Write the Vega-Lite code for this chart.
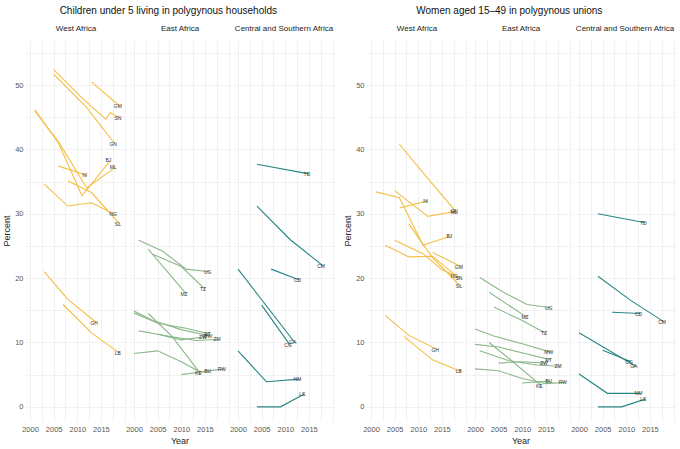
{
  "$schema": "https://vega.github.io/schema/vega-lite/v6.json",
  "background": "white",
  "padding": {"left": 2, "right": 2, "top": 6, "bottom": 0},
  "config": {
    "font": "Liberation Sans",
    "view": {"stroke": null},
    "axis": {"domain": false, "ticks": false, "gridColor": "#EBEBEB", "gridWidth": 0.7, "labelFontSize": 7.5, "labelColor": "#555555", "labelPadding": 3, "titleFontSize": 9, "titleFontWeight": "normal", "titleColor": "#222222", "titlePadding": 3},
    "header": {"labelFontSize": 8, "labelColor": "#222222", "labelPadding": 7, "titleFontSize": 9, "titleFontWeight": "normal", "titleColor": "#222222", "titlePadding": -6},
    "title": {"fontSize": 10, "fontWeight": "normal", "color": "#111111", "anchor": "middle", "offset": 9},
    "concat": {"spacing": 9}
  },
  "datasets": {
    "children": [
      {"region": "West Africa", "country": "GM", "year": 2013, "percent": 50.5},
      {"region": "West Africa", "country": "GM", "year": 2019, "percent": 46.7},
      {"region": "West Africa", "country": "SN", "year": 2005, "percent": 52.4},
      {"region": "West Africa", "country": "SN", "year": 2011, "percent": 48.0},
      {"region": "West Africa", "country": "SN", "year": 2016, "percent": 44.7},
      {"region": "West Africa", "country": "SN", "year": 2017, "percent": 45.7},
      {"region": "West Africa", "country": "SN", "year": 2019, "percent": 44.9},
      {"region": "West Africa", "country": "GN", "year": 2005, "percent": 51.7},
      {"region": "West Africa", "country": "GN", "year": 2012, "percent": 46.5},
      {"region": "West Africa", "country": "GN", "year": 2018, "percent": 40.8},
      {"region": "West Africa", "country": "BJ", "year": 2001, "percent": 46.2},
      {"region": "West Africa", "country": "BJ", "year": 2006, "percent": 41.0},
      {"region": "West Africa", "country": "BJ", "year": 2011, "percent": 32.8},
      {"region": "West Africa", "country": "BJ", "year": 2017, "percent": 38.3},
      {"region": "West Africa", "country": "ML", "year": 2001, "percent": 46.0},
      {"region": "West Africa", "country": "ML", "year": 2006, "percent": 41.2},
      {"region": "West Africa", "country": "ML", "year": 2012, "percent": 34.0},
      {"region": "West Africa", "country": "ML", "year": 2018, "percent": 37.2},
      {"region": "West Africa", "country": "NI", "year": 2006, "percent": 37.4},
      {"region": "West Africa", "country": "NI", "year": 2012, "percent": 36.0},
      {"region": "West Africa", "country": "NG", "year": 2003, "percent": 34.6},
      {"region": "West Africa", "country": "NG", "year": 2008, "percent": 31.2},
      {"region": "West Africa", "country": "NG", "year": 2013, "percent": 31.7},
      {"region": "West Africa", "country": "NG", "year": 2018, "percent": 29.9},
      {"region": "West Africa", "country": "SL", "year": 2008, "percent": 35.1},
      {"region": "West Africa", "country": "SL", "year": 2013, "percent": 33.3},
      {"region": "West Africa", "country": "SL", "year": 2019, "percent": 28.4},
      {"region": "West Africa", "country": "GH", "year": 2003, "percent": 21.0},
      {"region": "West Africa", "country": "GH", "year": 2008, "percent": 16.7},
      {"region": "West Africa", "country": "GH", "year": 2014, "percent": 13.1},
      {"region": "West Africa", "country": "LB", "year": 2007, "percent": 15.9},
      {"region": "West Africa", "country": "LB", "year": 2013, "percent": 11.5},
      {"region": "West Africa", "country": "LB", "year": 2019, "percent": 8.3},
      {"region": "East Africa", "country": "UG", "year": 2001, "percent": 25.9},
      {"region": "East Africa", "country": "UG", "year": 2006, "percent": 24.2},
      {"region": "East Africa", "country": "UG", "year": 2011, "percent": 21.4},
      {"region": "East Africa", "country": "UG", "year": 2016, "percent": 21.0},
      {"region": "East Africa", "country": "TZ", "year": 2004, "percent": 23.7},
      {"region": "East Africa", "country": "TZ", "year": 2010, "percent": 21.8},
      {"region": "East Africa", "country": "TZ", "year": 2015, "percent": 18.3},
      {"region": "East Africa", "country": "MZ", "year": 2003, "percent": 24.5},
      {"region": "East Africa", "country": "MZ", "year": 2011, "percent": 17.6},
      {"region": "East Africa", "country": "MW", "year": 2000, "percent": 14.9},
      {"region": "East Africa", "country": "MW", "year": 2004, "percent": 13.4},
      {"region": "East Africa", "country": "MW", "year": 2010, "percent": 12.0},
      {"region": "East Africa", "country": "MW", "year": 2016, "percent": 11.0},
      {"region": "East Africa", "country": "ET", "year": 2000, "percent": 14.6},
      {"region": "East Africa", "country": "ET", "year": 2005, "percent": 13.0},
      {"region": "East Africa", "country": "ET", "year": 2011, "percent": 12.2},
      {"region": "East Africa", "country": "ET", "year": 2016, "percent": 11.3},
      {"region": "East Africa", "country": "ZM", "year": 2001, "percent": 11.8},
      {"region": "East Africa", "country": "ZM", "year": 2007, "percent": 11.0},
      {"region": "East Africa", "country": "ZM", "year": 2013, "percent": 10.3},
      {"region": "East Africa", "country": "ZM", "year": 2018, "percent": 10.5},
      {"region": "East Africa", "country": "ZW", "year": 2005, "percent": 11.3},
      {"region": "East Africa", "country": "ZW", "year": 2010, "percent": 10.4},
      {"region": "East Africa", "country": "ZW", "year": 2015, "percent": 10.9},
      {"region": "East Africa", "country": "KE", "year": 2003, "percent": 14.5},
      {"region": "East Africa", "country": "KE", "year": 2008, "percent": 11.0},
      {"region": "East Africa", "country": "KE", "year": 2014, "percent": 5.2},
      {"region": "East Africa", "country": "RW", "year": 2000, "percent": 8.3},
      {"region": "East Africa", "country": "RW", "year": 2005, "percent": 8.7},
      {"region": "East Africa", "country": "RW", "year": 2010, "percent": 7.0},
      {"region": "East Africa", "country": "RW", "year": 2014, "percent": 5.4},
      {"region": "East Africa", "country": "RW", "year": 2019, "percent": 5.9},
      {"region": "East Africa", "country": "BU", "year": 2010, "percent": 5.0},
      {"region": "East Africa", "country": "BU", "year": 2016, "percent": 5.6},
      {"region": "Central and Southern Africa", "country": "TD", "year": 2004, "percent": 37.7},
      {"region": "Central and Southern Africa", "country": "TD", "year": 2015, "percent": 36.2},
      {"region": "Central and Southern Africa", "country": "CM", "year": 2004, "percent": 31.2},
      {"region": "Central and Southern Africa", "country": "CM", "year": 2011, "percent": 26.0},
      {"region": "Central and Southern Africa", "country": "CM", "year": 2018, "percent": 21.9},
      {"region": "Central and Southern Africa", "country": "CD", "year": 2007, "percent": 21.4},
      {"region": "Central and Southern Africa", "country": "CD", "year": 2013, "percent": 19.7},
      {"region": "Central and Southern Africa", "country": "GA", "year": 2000, "percent": 21.4},
      {"region": "Central and Southern Africa", "country": "GA", "year": 2012, "percent": 10.0},
      {"region": "Central and Southern Africa", "country": "CG", "year": 2005, "percent": 15.8},
      {"region": "Central and Southern Africa", "country": "CG", "year": 2011, "percent": 9.6},
      {"region": "Central and Southern Africa", "country": "NM", "year": 2000, "percent": 8.7},
      {"region": "Central and Southern Africa", "country": "NM", "year": 2006, "percent": 3.9},
      {"region": "Central and Southern Africa", "country": "NM", "year": 2013, "percent": 4.3},
      {"region": "Central and Southern Africa", "country": "LS", "year": 2004, "percent": 0.0},
      {"region": "Central and Southern Africa", "country": "LS", "year": 2009, "percent": 0.0},
      {"region": "Central and Southern Africa", "country": "LS", "year": 2014, "percent": 2.0}
    ],
    "women": [
      {"region": "West Africa", "country": "ML", "year": 2006, "percent": 40.8},
      {"region": "West Africa", "country": "ML", "year": 2012, "percent": 35.5},
      {"region": "West Africa", "country": "ML", "year": 2018, "percent": 30.3},
      {"region": "West Africa", "country": "GN", "year": 2005, "percent": 33.6},
      {"region": "West Africa", "country": "GN", "year": 2012, "percent": 29.6},
      {"region": "West Africa", "country": "GN", "year": 2018, "percent": 30.4},
      {"region": "West Africa", "country": "NI", "year": 2006, "percent": 30.9},
      {"region": "West Africa", "country": "NI", "year": 2012, "percent": 32.0},
      {"region": "West Africa", "country": "BJ", "year": 2001, "percent": 33.4},
      {"region": "West Africa", "country": "BJ", "year": 2006, "percent": 32.5},
      {"region": "West Africa", "country": "BJ", "year": 2011, "percent": 25.1},
      {"region": "West Africa", "country": "BJ", "year": 2017, "percent": 26.6},
      {"region": "West Africa", "country": "GM", "year": 2013, "percent": 24.0},
      {"region": "West Africa", "country": "GM", "year": 2019, "percent": 21.8},
      {"region": "West Africa", "country": "NG", "year": 2003, "percent": 25.1},
      {"region": "West Africa", "country": "NG", "year": 2008, "percent": 23.3},
      {"region": "West Africa", "country": "NG", "year": 2013, "percent": 23.4},
      {"region": "West Africa", "country": "NG", "year": 2018, "percent": 20.4},
      {"region": "West Africa", "country": "SN", "year": 2005, "percent": 25.9},
      {"region": "West Africa", "country": "SN", "year": 2011, "percent": 23.8},
      {"region": "West Africa", "country": "SN", "year": 2015, "percent": 21.3},
      {"region": "West Africa", "country": "SN", "year": 2019, "percent": 20.0},
      {"region": "West Africa", "country": "SL", "year": 2008, "percent": 28.4},
      {"region": "West Africa", "country": "SL", "year": 2013, "percent": 23.2},
      {"region": "West Africa", "country": "SL", "year": 2019, "percent": 18.7},
      {"region": "West Africa", "country": "GH", "year": 2003, "percent": 14.2},
      {"region": "West Africa", "country": "GH", "year": 2008, "percent": 11.1},
      {"region": "West Africa", "country": "GH", "year": 2014, "percent": 8.9},
      {"region": "West Africa", "country": "LB", "year": 2007, "percent": 10.9},
      {"region": "West Africa", "country": "LB", "year": 2013, "percent": 7.3},
      {"region": "West Africa", "country": "LB", "year": 2019, "percent": 5.5},
      {"region": "East Africa", "country": "UG", "year": 2001, "percent": 20.1},
      {"region": "East Africa", "country": "UG", "year": 2006, "percent": 17.8},
      {"region": "East Africa", "country": "UG", "year": 2011, "percent": 15.9},
      {"region": "East Africa", "country": "UG", "year": 2016, "percent": 15.4},
      {"region": "East Africa", "country": "MZ", "year": 2003, "percent": 17.8},
      {"region": "East Africa", "country": "MZ", "year": 2011, "percent": 13.9},
      {"region": "East Africa", "country": "TZ", "year": 2004, "percent": 15.5},
      {"region": "East Africa", "country": "TZ", "year": 2010, "percent": 13.4},
      {"region": "East Africa", "country": "TZ", "year": 2015, "percent": 11.4},
      {"region": "East Africa", "country": "MW", "year": 2000, "percent": 12.1},
      {"region": "East Africa", "country": "MW", "year": 2004, "percent": 11.0},
      {"region": "East Africa", "country": "MW", "year": 2010, "percent": 9.8},
      {"region": "East Africa", "country": "MW", "year": 2016, "percent": 8.5},
      {"region": "East Africa", "country": "ET", "year": 2000, "percent": 9.7},
      {"region": "East Africa", "country": "ET", "year": 2005, "percent": 9.3},
      {"region": "East Africa", "country": "ET", "year": 2011, "percent": 8.2},
      {"region": "East Africa", "country": "ET", "year": 2016, "percent": 7.3},
      {"region": "East Africa", "country": "ZM", "year": 2001, "percent": 8.7},
      {"region": "East Africa", "country": "ZM", "year": 2007, "percent": 7.2},
      {"region": "East Africa", "country": "ZM", "year": 2013, "percent": 6.5},
      {"region": "East Africa", "country": "ZM", "year": 2018, "percent": 6.3},
      {"region": "East Africa", "country": "ZW", "year": 2005, "percent": 6.8},
      {"region": "East Africa", "country": "ZW", "year": 2010, "percent": 7.0},
      {"region": "East Africa", "country": "ZW", "year": 2015, "percent": 6.8},
      {"region": "East Africa", "country": "KE", "year": 2003, "percent": 10.0},
      {"region": "East Africa", "country": "KE", "year": 2008, "percent": 7.0},
      {"region": "East Africa", "country": "KE", "year": 2014, "percent": 3.3},
      {"region": "East Africa", "country": "RW", "year": 2000, "percent": 5.9},
      {"region": "East Africa", "country": "RW", "year": 2005, "percent": 5.6},
      {"region": "East Africa", "country": "RW", "year": 2010, "percent": 4.4},
      {"region": "East Africa", "country": "RW", "year": 2015, "percent": 3.6},
      {"region": "East Africa", "country": "RW", "year": 2019, "percent": 3.8},
      {"region": "East Africa", "country": "BU", "year": 2010, "percent": 3.7},
      {"region": "East Africa", "country": "BU", "year": 2016, "percent": 4.0},
      {"region": "Central and Southern Africa", "country": "TD", "year": 2004, "percent": 30.0},
      {"region": "Central and Southern Africa", "country": "TD", "year": 2014, "percent": 28.6},
      {"region": "Central and Southern Africa", "country": "CM", "year": 2004, "percent": 20.3},
      {"region": "Central and Southern Africa", "country": "CM", "year": 2011, "percent": 16.5},
      {"region": "Central and Southern Africa", "country": "CM", "year": 2018, "percent": 13.2},
      {"region": "Central and Southern Africa", "country": "CD", "year": 2007, "percent": 14.7},
      {"region": "Central and Southern Africa", "country": "CD", "year": 2013, "percent": 14.5},
      {"region": "Central and Southern Africa", "country": "CG", "year": 2005, "percent": 8.8},
      {"region": "Central and Southern Africa", "country": "CG", "year": 2011, "percent": 7.0},
      {"region": "Central and Southern Africa", "country": "GA", "year": 2000, "percent": 11.5},
      {"region": "Central and Southern Africa", "country": "GA", "year": 2012, "percent": 6.3},
      {"region": "Central and Southern Africa", "country": "NM", "year": 2000, "percent": 5.1},
      {"region": "Central and Southern Africa", "country": "NM", "year": 2006, "percent": 2.1},
      {"region": "Central and Southern Africa", "country": "NM", "year": 2013, "percent": 2.1},
      {"region": "Central and Southern Africa", "country": "LS", "year": 2004, "percent": 0.0},
      {"region": "Central and Southern Africa", "country": "LS", "year": 2009, "percent": 0.0},
      {"region": "Central and Southern Africa", "country": "LS", "year": 2014, "percent": 1.2}
    ]
  },
  "hconcat": [
    {
      "title": "Children under 5 living in polygynous households",
      "data": {"name": "children"},
      "facet": {"column": {"field": "region", "type": "nominal", "sort": ["West Africa", "East Africa", "Central and Southern Africa"], "title": "Year", "header": {"labelOrient": "top", "titleOrient": "bottom"}}},
      "spacing": 4,
      "spec": {
        "width": 100,
        "height": 381,
        "encoding": {
          "x": {"field": "year", "type": "quantitative", "scale": {"domain": [1999.15, 2020.3], "nice": false, "zero": false},
                "axis": {"title": null, "format": "d", "labelPadding": 4, "values": [2000, 2002.5, 2005, 2007.5, 2010, 2012.5, 2015, 2017.5, 2020], "labelExpr": "datum.value % 5 == 0 && datum.value < 2020 ? datum.label : ''"}},
          "y": {"field": "percent", "type": "quantitative", "scale": {"domain": [-2.2, 57], "nice": false},
                "axis": {"title": "Percent", "values": [0, 5, 10, 15, 20, 25, 30, 35, 40, 45, 50, 55], "labelExpr": "datum.value % 10 == 0 ? datum.label : ''"}},
          "color": {"field": "region", "type": "nominal", "scale": {"domain": ["West Africa", "East Africa", "Central and Southern Africa"], "range": ["#F4BF45", "#8CB88A", "#268784"]}, "legend": null}
        },
        "layer": [
          {"mark": {"type": "line", "strokeWidth": 1.1}, "encoding": {"detail": {"field": "country"}}},
          {
            "transform": [
              {"joinaggregate": [{"op": "max", "field": "year", "as": "last"}], "groupby": ["country"]},
              {"filter": "datum.year == datum.last"}
            ],
            "mark": {"type": "text", "fontSize": 5, "dx": -2},
            "encoding": {"text": {"field": "country"}, "color": {"value": "#333333"}}
          }
        ]
      }
    },
    {
      "title": "Women aged 15\u201349 in polygynous unions",
      "data": {"name": "women"},
      "facet": {"column": {"field": "region", "type": "nominal", "sort": ["West Africa", "East Africa", "Central and Southern Africa"], "title": "Year", "header": {"labelOrient": "top", "titleOrient": "bottom"}}},
      "spacing": 4,
      "spec": {
        "width": 100,
        "height": 381,
        "encoding": {
          "x": {"field": "year", "type": "quantitative", "scale": {"domain": [1999.15, 2020.3], "nice": false, "zero": false},
                "axis": {"title": null, "format": "d", "labelPadding": 4, "values": [2000, 2002.5, 2005, 2007.5, 2010, 2012.5, 2015, 2017.5, 2020], "labelExpr": "datum.value % 5 == 0 && datum.value < 2020 ? datum.label : ''"}},
          "y": {"field": "percent", "type": "quantitative", "scale": {"domain": [-2.2, 57], "nice": false},
                "axis": {"title": "Percent", "values": [0, 5, 10, 15, 20, 25, 30, 35, 40, 45, 50, 55], "labelExpr": "datum.value % 10 == 0 ? datum.label : ''"}},
          "color": {"field": "region", "type": "nominal", "scale": {"domain": ["West Africa", "East Africa", "Central and Southern Africa"], "range": ["#F4BF45", "#8CB88A", "#268784"]}, "legend": null}
        },
        "layer": [
          {"mark": {"type": "line", "strokeWidth": 1.1}, "encoding": {"detail": {"field": "country"}}},
          {
            "transform": [
              {"joinaggregate": [{"op": "max", "field": "year", "as": "last"}], "groupby": ["country"]},
              {"filter": "datum.year == datum.last"}
            ],
            "mark": {"type": "text", "fontSize": 5, "dx": -2},
            "encoding": {"text": {"field": "country"}, "color": {"value": "#333333"}}
          }
        ]
      }
    }
  ]
}
